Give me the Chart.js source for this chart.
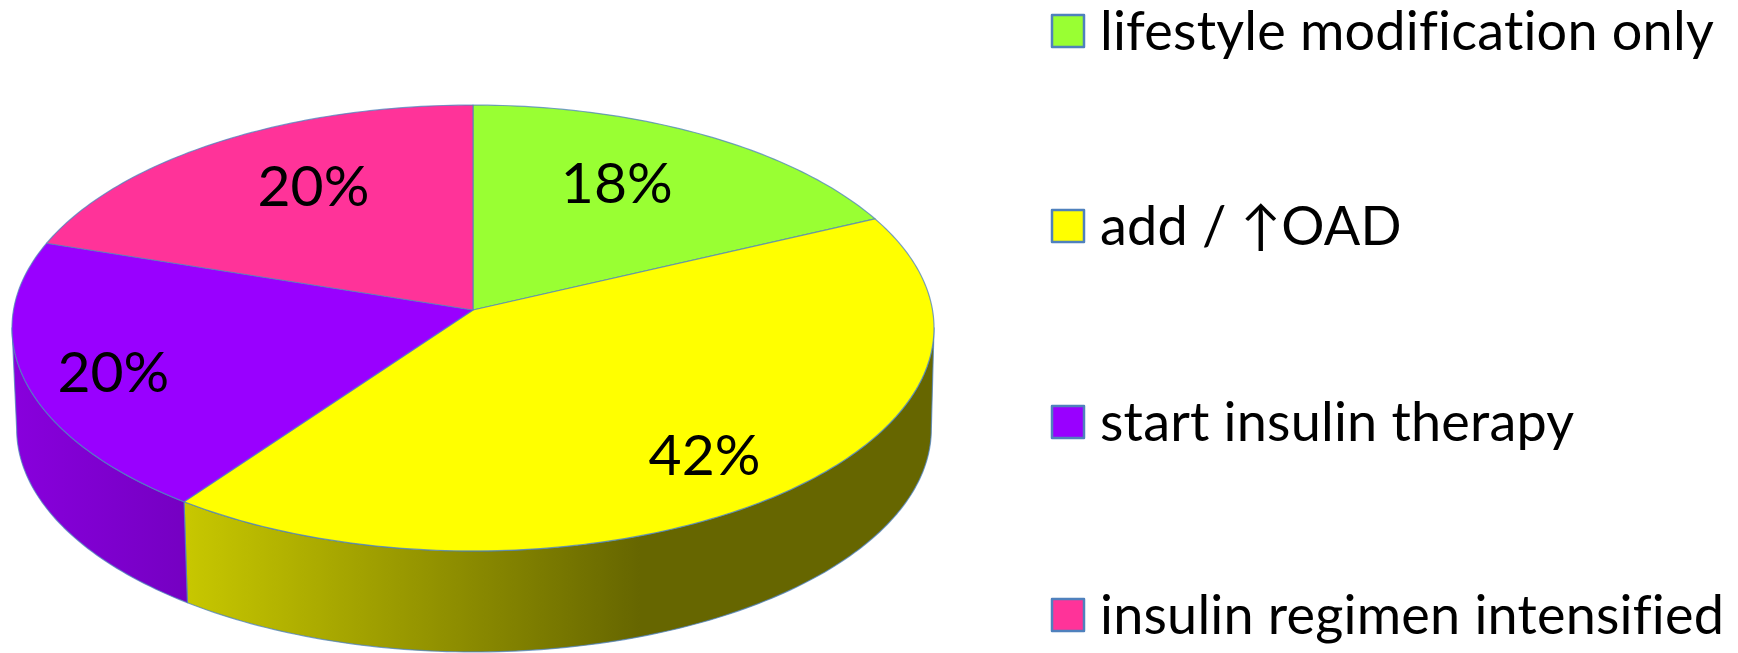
<!DOCTYPE html>
<html>
<head>
<meta charset="utf-8">
<title>Pie</title>
<script src="https://cdn.jsdelivr.net/npm/chart.js@4"></script>
<style>
  html, body { margin: 0; background: #fff; }
  canvas { display: block; }
</style>
</head>
<body>
<canvas id="chart" width="1738" height="653"></canvas>
<script>
const categories = ['lifestyle modification only', 'add / ↑OAD', 'start insulin therapy', 'insulin regimen intensified'];
const shares = [18, 42, 20, 20];
const sliceColors = ['#99ff33', '#ffff00', '#9900ff', '#ff3399'];

// the tilted disc: a circle seen in perspective
const apex = { x: 473, y: 310 };
const radiusX = 459.5;
const radiusY = 221.5;
const tilt = 0.0807;
const depth = 101;
const bottomScale = 0.992;
const bottomShift = 1;
const edgeColor = 'rgba(79,129,189,0.75)';

// side wall shading, only the front slices show a wall
const wallRange = [94.6, 265.4];
const wallShades = {
  1: { from: 183, to: 640, stops: ['#c8c800', '#666600'] },
  2: { from: 16, to: 186, stops: ['#8800dc', '#7500c2'] }
};

// where the percent text sits inside each slice
const labelRadius = [0.676, 0.791, 0.815, 0.682];
const labelTurn = [-3.4, 2.4, -2.2, 3.8];
const labelFont = '400 57px Lato, "Open Sans", sans-serif';

const legendFont = '400 54px Lato, "Open Sans", sans-serif';
const legendBox = { x: 1052, size: 32, textX: 1100 };
const legendRows = [31, 226, 422, 615];
const legendTextDrop = 2;

function project(deg, r) {
  const rad = deg * Math.PI / 180;
  const u = r * Math.sin(rad);
  const v = r * Math.cos(rad);
  const w = 1 + tilt * v;
  return { x: radiusX * u / w, y: radiusY * v / w };
}

function tracePoints(ctx, from, to, place, first) {
  const steps = Math.max(2, Math.ceil(Math.abs(to - from)));
  for (let i = 0; i <= steps; i++) {
    const p = place(project(from + (to - from) * i / steps, 1));
    if (first && i === 0) ctx.moveTo(p.x, p.y);
    else ctx.lineTo(p.x, p.y);
  }
}

const onTop = p => ({ x: apex.x + p.x, y: apex.y - p.y });
const onBottom = p => ({ x: apex.x + bottomShift + p.x * bottomScale, y: apex.y - p.y + depth });

const pie3d = {
  id: 'pie3d',
  beforeDatasetsDraw(chart) {
    const ctx = chart.ctx;
    const arcs = chart.getDatasetMeta(0).data;
    const slices = arcs.map(arc => ({
      start: (arc.startAngle + Math.PI / 2) * 180 / Math.PI,
      end: (arc.endAngle + Math.PI / 2) * 180 / Math.PI
    }));

    ctx.save();
    ctx.lineJoin = 'round';
    ctx.strokeStyle = edgeColor;
    ctx.lineWidth = 1.2;

    // walls first
    slices.forEach((s, i) => {
      const shade = wallShades[i];
      if (!shade) return;
      const from = Math.max(s.start, wallRange[0]);
      const to = Math.min(s.end, wallRange[1]);
      const grad = ctx.createLinearGradient(shade.from, 0, shade.to, 0);
      grad.addColorStop(0, shade.stops[0]);
      grad.addColorStop(1, shade.stops[1]);
      ctx.beginPath();
      tracePoints(ctx, from, to, onTop, true);
      tracePoints(ctx, to, from, onBottom, false);
      ctx.closePath();
      ctx.fillStyle = grad;
      ctx.fill();
      ctx.stroke();
    });

    // top of the disc
    slices.forEach((s, i) => {
      ctx.beginPath();
      ctx.moveTo(apex.x, apex.y);
      tracePoints(ctx, s.start, s.end, onTop, false);
      ctx.closePath();
      ctx.fillStyle = sliceColors[i];
      ctx.fill();
      ctx.stroke();
    });

    // percent labels
    ctx.font = labelFont;
    ctx.fillStyle = '#000';
    ctx.textAlign = 'center';
    ctx.textBaseline = 'middle';
    slices.forEach((s, i) => {
      const mid = (s.start + s.end) / 2 + labelTurn[i];
      const p = onTop(project(mid, labelRadius[i]));
      ctx.fillText(shares[i] + '%', p.x, p.y);
    });

    // legend
    ctx.font = legendFont;
    ctx.textAlign = 'left';
    ctx.letterSpacing = '0.2px'; // keeps "fi" as two letters
    categories.forEach((name, i) => {
      const y = legendRows[i];
      ctx.fillStyle = sliceColors[i];
      ctx.fillRect(legendBox.x, y - legendBox.size / 2, legendBox.size, legendBox.size);
      ctx.strokeStyle = '#4f81bd';
      ctx.lineWidth = 2.5;
      ctx.strokeRect(legendBox.x, y - legendBox.size / 2, legendBox.size, legendBox.size);
      ctx.fillStyle = '#000';
      ctx.fillText(name, legendBox.textX, y + legendTextDrop);
    });

    ctx.restore();
    return false;
  }
};

new Chart(document.getElementById('chart'), {
  type: 'pie',
  data: {
    labels: categories,
    datasets: [{ data: shares, backgroundColor: sliceColors }]
  },
  options: {
    responsive: false,
    animation: false,
    plugins: {
      legend: { display: false },
      tooltip: { enabled: false }
    }
  },
  plugins: [pie3d]
});
</script>
</body>
</html>
